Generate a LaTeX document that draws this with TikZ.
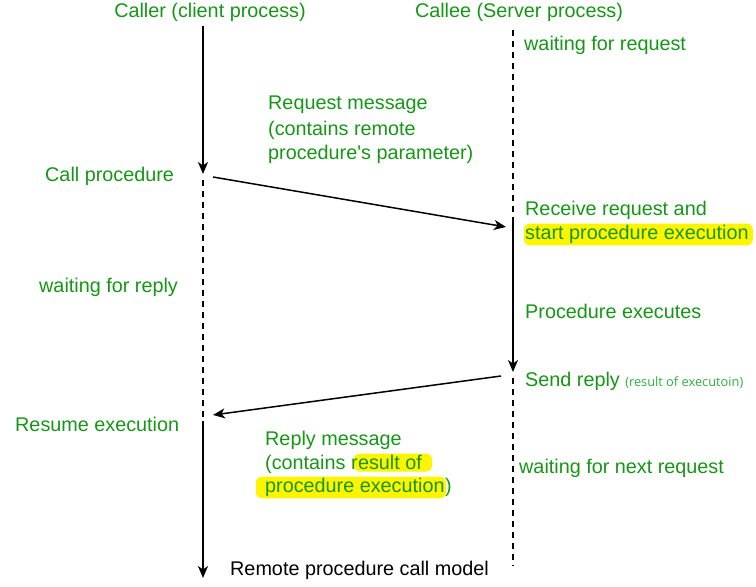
\documentclass[tikz,border=0pt]{standalone}
\usepackage{fontspec}
\setmainfont{Liberation Sans}[Ligatures=TeXOff]
\newfontfamily\smallfont{Open Sans}
\usetikzlibrary{arrows.meta,backgrounds}
\definecolor{tgreen}{RGB}{22,150,22}
\definecolor{lgreen}{RGB}{45,175,65}
\definecolor{hl}{RGB}{255,245,0}
\begin{document}
\begin{tikzpicture}[x=1pt,y=-1pt,
  txt/.style={text=tgreen,font=\fontsize{19.8}{23}\selectfont,inner sep=0pt,anchor=west},
  wait/.style={line width=1.5pt,dash pattern=on 6pt off 5pt},
  msg/.style={line width=1.5pt,-{Stealth[length=12pt,width=10pt,inset=3.5pt]}},
  hlbox/.style={fill=hl,rounded corners=6pt}]
\useasboundingbox (0,0) rectangle (756,587);
% headings
\node[txt,anchor=center] (caller) at (210,12) {Caller (client process)};
\node[txt,anchor=center] (callee) at (519,12) {Callee (Server process)};
% lifeline coordinates
\coordinate (L0) at (203,26);
\coordinate (L1) at (203,174);
\coordinate (L2) at (203,180);
\coordinate (L3) at (203,418);
\coordinate (L4) at (203,421);
\coordinate (L5) at (203,578);
\coordinate (R0) at (513,30);
\coordinate (R1) at (513,221);
\coordinate (R2) at (513,372);
\coordinate (R3) at (513,378);
\coordinate (R4) at (513,566);
\draw[msg] (L0) -- (L1);
\draw[wait] (L2) -- (L3);
\draw[msg] (L4) -- (L5);
\draw[wait] (R0) -- (R1);
\draw[msg] (R1) -- (R2);
\draw[wait] (R3) -- (R4);
% messages
\coordinate (q0) at (213,177);
\coordinate (q1) at (506,227);
\coordinate (p0) at (501,376);
\coordinate (p1) at (213,415);
\draw[msg] (q0) -- (q1);
\draw[msg] (p0) -- (p1);
% texts
\node[txt] (wreq) at (524,45) {waiting for request};
\node[txt] (rq1) at (268,105) {Request message};
\node[txt] (rq2) at (268,130) {(contains remote};
\node[txt] (rq3) at (268,154) {procedure's parameter)};
\node[txt] (callp) at (45,176) {Call procedure};
\node[txt] (recv1) at (525,210) {Receive request and};
\node[txt] (recv2) at (525,234) {start procedure execution};
\node[txt] (wrep) at (39,287) {waiting for reply};
\node[txt] (pexe) at (525,311) {Procedure executes};
\node[txt] (send) at (525,381) {Send reply};
\node[text=lgreen,font=\smallfont\fontsize{12.8}{14}\selectfont,inner sep=0pt,anchor=base west] (sres) at ([xshift=5pt]send.base east) {(result of executoin)};
\node[txt] (resume) at (15,424) {Resume execution};
\node[txt] (rp1) at (265,440) {Reply message};
\node[txt] (rp2a) at (265,464) {(contains r};
\node[txt,anchor=base west] (rp2b) at (rp2a.base east) {esult of};
\node[txt] (rp3a) at (265,487) {procedure execution};
\node[txt,anchor=base west] (rp3b) at (rp3a.base east) {)};
\node[txt] (wnext) at (519,468) {waiting for next request};
\node[inner sep=0pt,anchor=west,font=\fontsize{19.8}{23}\selectfont] (title) at (230,570) {Remote procedure call model};
\begin{scope}[on background layer]
\fill[hlbox] ([xshift=-1pt,yshift=1pt]recv2.north west) rectangle ([xshift=4pt,yshift=-2pt]recv2.south east);
\fill[hlbox] ([xshift=-4pt,yshift=1pt]rp2b.north west) rectangle ([xshift=10pt,yshift=-2pt]rp2b.south east);
\fill[hlbox] ([xshift=-9pt,yshift=1pt]rp3a.north west) rectangle ([xshift=1pt,yshift=-2pt]rp3a.south east);
\end{scope}
\end{tikzpicture}
\end{document}
